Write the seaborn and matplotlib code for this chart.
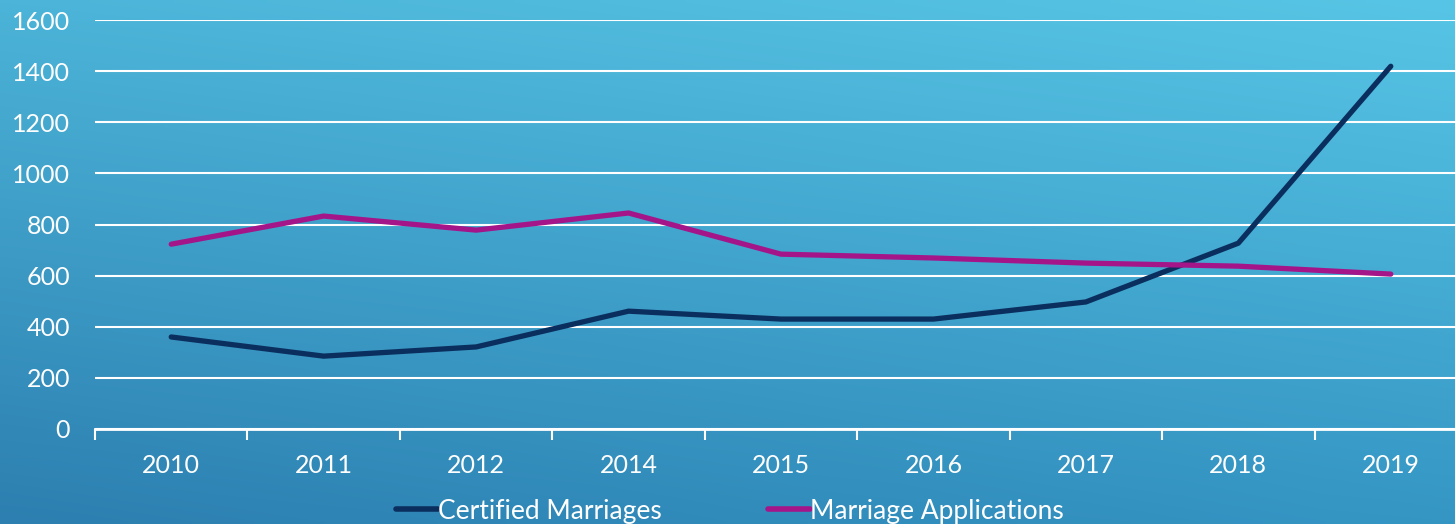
import numpy as np
import matplotlib
matplotlib.use("Agg")
import matplotlib.pyplot as plt
from matplotlib.colors import to_rgb
import seaborn as sns
import pandas as pd

years = ["2010", "2011", "2012", "2014", "2015", "2016", "2017", "2018", "2019"]
certified = [360, 285, 321, 461, 430, 430, 497, 727, 1419]
applications = [723, 833, 778, 845, 684, 669, 649, 637, 606]
series_names = ["Certified Marriages", "Marriage Applications"]
yticks = [0, 200, 400, 600, 800, 1000, 1200, 1400, 1600]

df = pd.DataFrame({
    "year": years * 2,
    "value": certified + applications,
    "series": [series_names[0]] * len(years) + [series_names[1]] * len(years),
})

sns.set_style("white")
plt.rcParams["font.family"] = ["Lato", "DejaVu Sans"]

fig = plt.figure(figsize=(14.55, 5.24), dpi=100)

# gradient background (bilinear between the four corners)
tl, tr = np.array(to_rgb("#4cb4d8")), np.array(to_rgb("#57c5e5"))
bl, br = np.array(to_rgb("#2c7fb0")), np.array(to_rgb("#3596c4"))
h, w = 100, 200
u = np.linspace(0, 1, w)[None, :, None]
v = np.linspace(0, 1, h)[:, None, None]
img = (1 - v) * ((1 - u) * tl + u * tr) + v * ((1 - u) * bl + u * br)
bg = fig.add_axes([0, 0, 1, 1], zorder=-1)
bg.imshow(img, aspect="auto", extent=[0, 1, 0, 1], interpolation="bilinear")
bg.axis("off")

ax = fig.add_axes([95 / 1455, 95 / 524, 1372 / 1455, 409 / 524])
ax.patch.set_alpha(0)

sns.lineplot(data=df, x="year", y="value", hue="series", sort=False,
             palette=["#0a2f5f", "#a5158a"], linewidth=3.8, ax=ax,
             solid_capstyle="round", solid_joinstyle="round")

ax.set_ylim(0, 1600)
ax.set_xlim(-0.5, len(years) - 0.5)
ax.set_yticks(yticks)
ax.set_yticklabels([str(t) for t in yticks])
ax.set_xticks(range(len(years)))
ax.set_xticklabels(years)
ax.set_xticks(np.arange(-0.5, len(years), 1.0), minor=True)
ax.tick_params(axis="x", which="major", bottom=True, length=0, pad=18,
               labelsize=18, labelcolor="white")
ax.tick_params(axis="x", which="minor", bottom=True, length=8, width=1.5,
               color="white", direction="out")
ax.tick_params(axis="y", length=0, pad=18, labelsize=18, labelcolor="white")
ax.yaxis.grid(True, color="white", linewidth=1.5)
ax.set_axisbelow(True)
for s in ["top", "right", "left"]:
    ax.spines[s].set_visible(False)
ax.spines["bottom"].set_color("white")
ax.spines["bottom"].set_linewidth(2)
ax.set_xlabel("")
ax.set_ylabel("")

leg = ax.legend(loc="center", bbox_to_anchor=(730 / 1455, 13 / 524),
                bbox_transform=fig.transFigure, ncol=2, frameon=False,
                fontsize=19, handlelength=1.6, handletextpad=0.0,
                columnspacing=4.0, labelcolor="white")
for line in leg.get_lines():
    line.set_linewidth(4)

plt.savefig("out.png", dpi=100)
